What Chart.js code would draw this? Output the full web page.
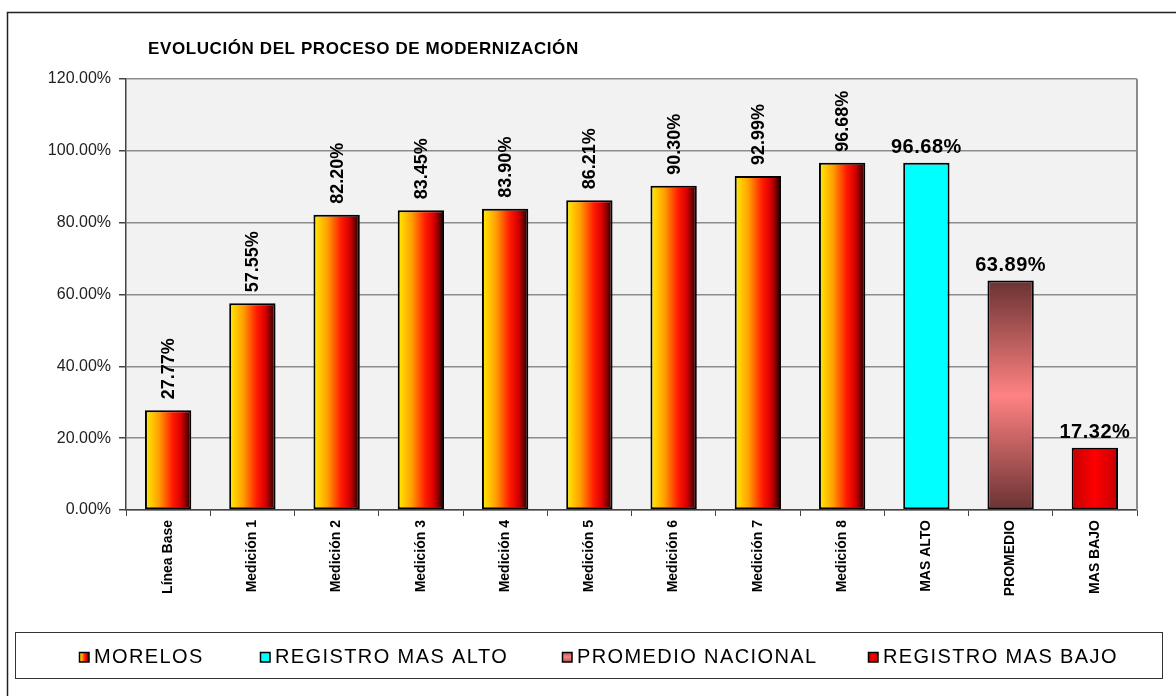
<!DOCTYPE html>
<html>
<head>
<meta charset="utf-8">
<script src="https://cdn.jsdelivr.net/npm/chart.js@4.4.1/dist/chart.umd.min.js"></script>
<style>
  html, body { margin: 0; padding: 0; background: #fff; }
  #wrap { width: 1176px; height: 696px; position: relative; }
</style>
</head>
<body>
<div id="wrap"><canvas id="chart"></canvas></div>
<script>
// ---------------------------------------------------------------------
// DATA
// ---------------------------------------------------------------------
const categories = ['Línea Base', 'Medición 1', 'Medición 2', 'Medición 3', 'Medición 4',
    'Medición 5', 'Medición 6', 'Medición 7', 'Medición 8', 'MAS ALTO', 'PROMEDIO', 'MAS BAJO'];
const morelos      = [27.77, 57.55, 82.20, 83.45, 83.90, 86.21, 90.30, 92.99, 96.68, null, null, null];
const registroAlto = [null, null, null, null, null, null, null, null, null, 96.68, null, null];
const promedio     = [null, null, null, null, null, null, null, null, null, null, 63.89, null];
const registroBajo = [null, null, null, null, null, null, null, null, null, null, null, 17.32];
const seriesNames  = ['MORELOS', 'REGISTRO MAS ALTO', 'PROMEDIO NACIONAL', 'REGISTRO MAS BAJO'];
const yMin = 0, yMax = 120, yStep = 20;
const titleText = 'EVOLUCIÓN DEL PROCESO DE MODERNIZACIÓN';

// ---------------------------------------------------------------------
// STYLE HELPERS
// ---------------------------------------------------------------------
const FONT = "'Liberation Sans', Arial, sans-serif";
const BAR_PCT = 0.55;

const barBox = (c) => {
    const chart = c.chart;
    const xs = chart.scales.x, ys = chart.scales.y;
    if (!xs || !ys || !chart.chartArea || c.dataIndex === undefined || c.raw == null) return null;
    const cx = xs.getPixelForValue(c.dataIndex);
    const w = (xs.width / categories.length) * BAR_PCT;
    return { x0: cx - w / 2, x1: cx + w / 2, y0: ys.getPixelForValue(c.raw), y1: ys.getPixelForValue(0) };
};

const fireGrad = (g) => {
    g.addColorStop(0, '#ffee00');
    g.addColorStop(0.3, '#ffa000');
    g.addColorStop(0.6, '#ff1a00');
    g.addColorStop(0.78, '#d80000');
    g.addColorStop(1, '#1a0000');
    return g;
};
const pinkGrad = (g) => {
    g.addColorStop(0, '#6a3232');
    g.addColorStop(0.5, '#ff8282');
    g.addColorStop(1, '#6a3232');
    return g;
};
const redGrad = (g) => {
    g.addColorStop(0, '#c40000');
    g.addColorStop(0.5, '#ff0000');
    g.addColorStop(1, '#c40000');
    return g;
};

const morelosFill = (c) => {
    const b = barBox(c);
    if (!b) return '#ff8000';
    return fireGrad(c.chart.ctx.createLinearGradient(b.x0, 0, b.x1, 0));
};
const promedioFill = (c) => {
    const b = barBox(c);
    if (!b) return '#e07070';
    return pinkGrad(c.chart.ctx.createLinearGradient(0, b.y0, 0, b.y1));
};
const bajoFill = (c) => {
    const b = barBox(c);
    if (!b) return '#ff0000';
    return redGrad(c.chart.ctx.createLinearGradient(b.x0, 0, b.x1, 0));
};

// ---------------------------------------------------------------------
// PLUGINS
// ---------------------------------------------------------------------
const plotBackground = {
    id: 'plotBackground',
    beforeDraw(chart) {
        const { ctx, chartArea: a } = chart;
        ctx.save();
        ctx.fillStyle = '#f2f2f2';
        ctx.fillRect(a.left, a.top, a.right - a.left, a.bottom - a.top);
        ctx.restore();
    },
    beforeDatasetsDraw(chart) {
        const { ctx, chartArea: a } = chart;
        ctx.save();
        ctx.strokeStyle = '#8c8c8c';
        ctx.lineWidth = 2;
        ctx.beginPath();
        ctx.moveTo(a.right, a.top);
        ctx.lineTo(a.right, a.bottom);
        ctx.stroke();
        ctx.restore();
    }
};

const valueLabels = {
    id: 'valueLabels',
    afterDatasetsDraw(chart) {
        const ctx = chart.ctx;
        ctx.save();
        ctx.fillStyle = '#000';
        chart.data.datasets.forEach((ds, di) => {
            const meta = chart.getDatasetMeta(di);
            meta.data.forEach((el, i) => {
                const v = ds.data[i];
                if (v == null) return;
                const txt = v.toFixed(2) + '%';
                if (di === 0) {
                    ctx.save();
                    ctx.font = `bold 18px ${FONT}`;
                    ctx.translate(el.x + 1, el.y - 11);
                    ctx.rotate(-Math.PI / 2);
                    ctx.textAlign = 'left';
                    ctx.textBaseline = 'middle';
                    ctx.fillText(txt, 0, 0);
                    ctx.restore();
                } else {
                    ctx.save();
                    ctx.font = `bold 20px ${FONT}`;
                    ctx.letterSpacing = '0.5px';
                    ctx.textAlign = 'center';
                    ctx.textBaseline = 'alphabetic';
                    ctx.fillText(txt, el.x, el.y - 10);
                    ctx.restore();
                }
            });
        });
        ctx.restore();
    }
};

const frame = {
    id: 'frame',
    afterDraw(chart) {
        const ctx = chart.ctx;
        ctx.save();
        // outer chart border (only top and left fall inside the picture)
        ctx.strokeStyle = '#222';
        ctx.lineWidth = 1.5;
        ctx.beginPath();
        ctx.moveTo(7.5, 700);
        ctx.lineTo(7.5, 12.5);
        ctx.lineTo(1180, 12.5);
        ctx.stroke();

        // title
        ctx.fillStyle = '#000';
        ctx.font = `bold 17px ${FONT}`;
        ctx.letterSpacing = '0.6px';
        ctx.textAlign = 'left';
        ctx.textBaseline = 'alphabetic';
        ctx.fillText(titleText, 148, 54);

        // legend box
        ctx.letterSpacing = '0px';
        ctx.strokeStyle = '#333';
        ctx.lineWidth = 1;
        ctx.strokeRect(15.5, 632.5, 1147, 46);

        const xs = [79, 260, 562, 868];
        const swatch = [
            (x, y) => fireGrad(ctx.createLinearGradient(x, 0, x + 10, 0)),
            () => '#00ffff',
            (x, y) => pinkGrad(ctx.createLinearGradient(0, y - 4, 0, y + 14)),
            (x, y) => redGrad(ctx.createLinearGradient(x, 0, x + 10, 0))
        ];
        seriesNames.forEach((name, i) => {
            const x = xs[i], y = 652;
            ctx.fillStyle = swatch[i](x, y);
            ctx.fillRect(x, y, 10, 10);
            ctx.strokeStyle = '#000';
            ctx.lineWidth = 1.5;
            ctx.strokeRect(x + 0.5, y + 0.5, 9.5, 9.5);
            ctx.fillStyle = '#000';
            ctx.font = `20px ${FONT}`;
            ctx.letterSpacing = '1.4px';
            ctx.fillText(name, x + 15, 663);
            ctx.letterSpacing = '0px';
        });
        ctx.restore();
    }
};

// ---------------------------------------------------------------------
// CHART
// ---------------------------------------------------------------------
const common = { borderColor: '#000', borderWidth: 2, borderSkipped: false,
                 barPercentage: BAR_PCT, categoryPercentage: 1 };

new Chart(document.getElementById('chart'), {
    type: 'bar',
    data: {
        labels: categories,
        datasets: [
            { label: seriesNames[0], data: morelos,      backgroundColor: morelosFill, ...common },
            { label: seriesNames[1], data: registroAlto, backgroundColor: '#00ffff',   ...common },
            { label: seriesNames[2], data: promedio,     backgroundColor: promedioFill, ...common },
            { label: seriesNames[3], data: registroBajo, backgroundColor: bajoFill,    ...common }
        ]
    },
    options: {
        responsive: true, maintainAspectRatio: false, animation: false,
        layout: { padding: { top: 79, left: 0, right: 39, bottom: 76 } },
        plugins: { legend: { display: false }, tooltip: { enabled: false } },
        scales: {
            x: {
                stacked: true,
                afterFit: (s) => { s.height = 110; },
                border: { color: '#444', width: 1.5 },
                grid: { display: true, drawOnChartArea: false, drawTicks: true, tickLength: 6,
                        color: '#444', offset: true },
                ticks: { autoSkip: false, minRotation: 90, maxRotation: 90, padding: 4,
                         color: '#000', font: { family: FONT, size: 14, weight: 'bold' } }
            },
            y: {
                stacked: true,
                min: yMin, max: yMax,
                afterFit: (s) => { s.width = 126; },
                border: { color: '#444', width: 1.5 },
                grid: { color: '#8c8c8c', lineWidth: 1.5, tickLength: 7, tickColor: '#444' },
                ticks: { stepSize: yStep, padding: 8, color: '#222',
                         font: { family: FONT, size: 16 },
                         callback: (v) => v.toFixed(2) + '%' }
            }
        }
    },
    plugins: [plotBackground, valueLabels, frame]
});
</script>
</body>
</html>
